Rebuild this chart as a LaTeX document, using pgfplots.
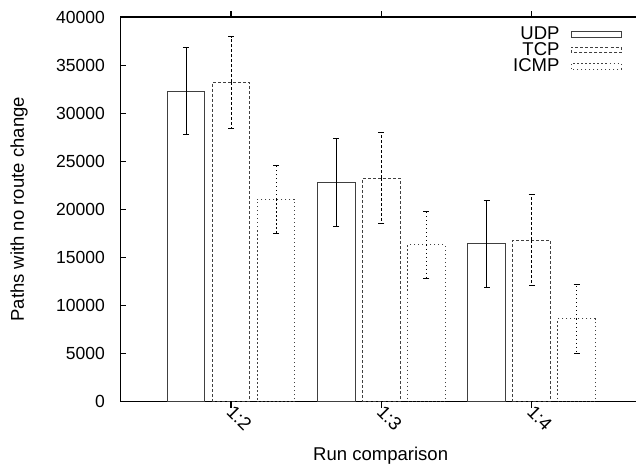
\documentclass[border=0pt]{standalone}
\usepackage{pgfplots}
\pgfplotsset{compat=1.18}
\usepackage{fontspec}
\setmainfont{Liberation Sans}
\pgfplotsset{boxlegend/.style={legend image code/.code={\draw[##1] (0bp,-2.8bp) rectangle (50bp,2.8bp);}}}
\begin{document}
\fontsize{17.5bp}{20bp}\selectfont
\begin{tikzpicture}
\begin{axis}[
  scale only axis,
  width=515bp, height=384bp,
  xmin=-0.738, xmax=2.695,
  ymin=0, ymax=40000,
  axis x line=box, axis y line=left,
  axis line style={-, line width=1.3bp, black},
  tick align=inside,
  major tick length=6bp,
  tick style={line width=1.2bp, black},
  ytick={0,5000,...,40000},
  xtick={0,1,2},
  xticklabels={1:2,1:3,1:4},
  scaled y ticks=false,
  /pgf/number format/assume math mode=true,
  /pgf/number format/set thousands separator={},
  yticklabel style={inner sep=0pt, anchor=east, xshift=-15bp},
  xticklabel style={inner sep=0pt, anchor=west, yshift=-1bp, xshift=-1bp, rotate=-45, font=\fontsize{18.5bp}{20bp}\selectfont},
  ylabel={Paths with no route change},
  ylabel style={at={(axis description cs:-0.1961,0.5)}, anchor=center, font=\fontsize{18.5bp}{20bp}\selectfont},
  xlabel={Run comparison},
  xlabel style={at={(axis description cs:0.505,0)}, anchor=base, yshift=-59bp, font=\fontsize{18.5bp}{20bp}\selectfont},
  ybar, bar width=37.5bp,
  legend plot pos=right,
  legend cell align=right,
  legend style={draw=none, fill=none, at={(axis description cs:0.9725,0.981)}, anchor=north east, row sep=-3.5bp, column sep=9bp, inner sep=0pt, font=\fontsize{18.5bp}{20bp}\selectfont},
]
\addplot[draw=black!75, line width=1bp, fill=none, bar shift=-45bp, boxlegend,
  error bars/.cd, y dir=both, y explicit,
  error bar style={black, line width=1bp, solid},
  error mark options={rotate=90, black, mark size=3bp, line width=1bp}]
  table[x=x, y=y, y error=e] {
x y e
0 32300 4550
1 22800 4600
2 16400 4550
};
\addlegendentry{UDP}
\addplot[draw=black!75, line width=1bp, fill=none, bar shift=0bp, dash pattern=on 3bp off 2bp, boxlegend,
  error bars/.cd, y dir=both, y explicit,
  error bar style={black, line width=1bp, dash pattern=on 3bp off 2bp},
  error mark options={rotate=90, black, mark size=3bp, line width=1bp, solid}]
  table[x=x, y=y, y error=e] {
x y e
0 33200 4750
1 23250 4750
2 16800 4750
};
\addlegendentry{TCP}
\addplot[draw=black!75, line width=1bp, fill=none, bar shift=45bp, dash pattern=on 1.3bp off 2.7bp, boxlegend,
  error bars/.cd, y dir=both, y explicit,
  error bar style={black, line width=1bp, dash pattern=on 1.3bp off 2.7bp},
  error mark options={rotate=90, black, mark size=3bp, line width=1bp, solid}]
  table[x=x, y=y, y error=e] {
x y e
0 21050 3550
1 16300 3500
2 8600 3550
};
\addlegendentry{ICMP}
\end{axis}
\pgfresetboundingbox
\path[use as bounding box] (-120bp,-63bp) rectangle (515bp,401bp);
\end{tikzpicture}
\end{document}
